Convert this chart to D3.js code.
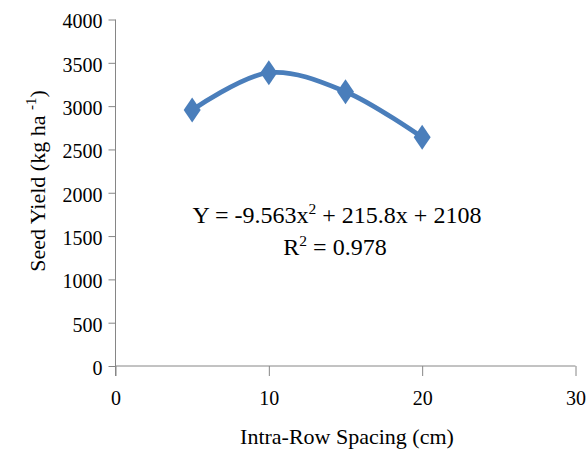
<!DOCTYPE html>
<html>
<head>
<meta charset="utf-8">
<script src="https://cdn.jsdelivr.net/npm/d3@7"></script>
<style>
  html, body { margin: 0; padding: 0; background: #fff; }
</style>
</head>
<body>
<svg id="chart" width="586" height="449" font-family="Liberation Serif, Times New Roman, serif"></svg>
<script>
const spacing = [5, 10, 15, 20];
const seedYield = [2955, 3386, 3167, 2640];
const xTicks = [0, 10, 20, 30];
const yTicks = [0, 500, 1000, 1500, 2000, 2500, 3000, 3500, 4000];

const FONT = '"Liberation Serif", "Times New Roman", serif';
const svg = d3.select("#chart");
const x = d3.scaleLinear().domain([0, 30]).range([115.5, 575.5]);
const y = d3.scaleLinear().domain([0, 4000]).range([366, 19.5]);
const axisColor = "#868686";

// Y axis
const yAxis = svg.append("g").attr("transform", `translate(${x(0)},0)`)
  .call(d3.axisLeft(y).tickValues(yTicks).tickSize(7).tickSizeOuter(0).tickFormat(d3.format("d")));
yAxis.attr("font-family", null).attr("font-size", null);
yAxis.select(".domain").attr("stroke", axisColor).attr("d", `M0,${y(4000)}V${y(0) + 10}`);
yAxis.selectAll(".tick line").attr("stroke", axisColor);
yAxis.selectAll(".tick text").style("font-family", FONT).attr("font-size", 20)
  .attr("x", -13).attr("dy", "0.42em").attr("fill", "#000");

// X axis
const xAxis = svg.append("g").attr("transform", `translate(0,${y(0)})`)
  .call(d3.axisBottom(x).tickValues(xTicks).tickSize(10).tickSizeOuter(0).tickFormat(d3.format("d")));
xAxis.attr("font-family", null).attr("font-size", null);
xAxis.select(".domain").attr("stroke", axisColor).attr("d", `M${x(0)},0H${x(30)}`);
xAxis.selectAll(".tick line").attr("stroke", axisColor);
xAxis.selectAll(".tick text").style("font-family", FONT).attr("font-size", 20)
  .attr("y", 25).attr("dy", "0.71em").attr("fill", "#000");

// Line
const pts = spacing.map((s, i) => [s, seedYield[i]]);
const line = d3.line().x(d => x(d[0])).y(d => y(d[1])).curve(d3.curveCatmullRom.alpha(0.5));
svg.append("path").datum(pts).attr("d", line)
  .attr("fill", "none").attr("stroke", "#4a7ebb").attr("stroke-width", 4.8)
  .attr("stroke-linejoin", "round").attr("stroke-linecap", "round");

// Diamond markers
svg.selectAll(".marker").data(pts).enter().append("path")
  .attr("class", "marker")
  .attr("d", d => {
    const cx = x(d[0]), cy = y(d[1]), hw = 8.5, hh = 12.5;
    return `M${cx},${cy - hh}L${cx + hw},${cy}L${cx},${cy + hh}L${cx - hw},${cy}Z`;
  })
  .attr("fill", "#4a7ebb");

// Equation
const eq = svg.append("text").attr("x", 337).attr("y", 223).attr("text-anchor", "middle")
  .style("font-family", FONT).attr("font-size", 24);
eq.append("tspan").text("Y = -9.563x");
eq.append("tspan").attr("font-size", 15.5).attr("dy", -9).text("2");
eq.append("tspan").attr("dy", 9).text(" + 215.8x + 2108");

const r2 = svg.append("text").attr("x", 335).attr("y", 255).attr("text-anchor", "middle")
  .style("font-family", FONT).attr("font-size", 24);
r2.append("tspan").text("R");
r2.append("tspan").attr("font-size", 15.5).attr("dy", -9).text("2");
r2.append("tspan").attr("dy", 9).text(" = 0.978");

// Axis titles
svg.append("text").attr("x", 347).attr("y", 444).attr("text-anchor", "middle")
  .style("font-family", FONT).attr("font-size", 22)
  .text("Intra-Row Spacing (cm)");

const yt = svg.append("text").attr("transform", "translate(45,181) rotate(-90)")
  .attr("text-anchor", "middle").style("font-family", FONT).attr("font-size", 22);
yt.append("tspan").text("Seed Yield (kg ha ");
yt.append("tspan").attr("font-size", 15).attr("dy", -9).text("-1");
yt.append("tspan").attr("dy", 9).text(")");
</script>
</body>
</html>
